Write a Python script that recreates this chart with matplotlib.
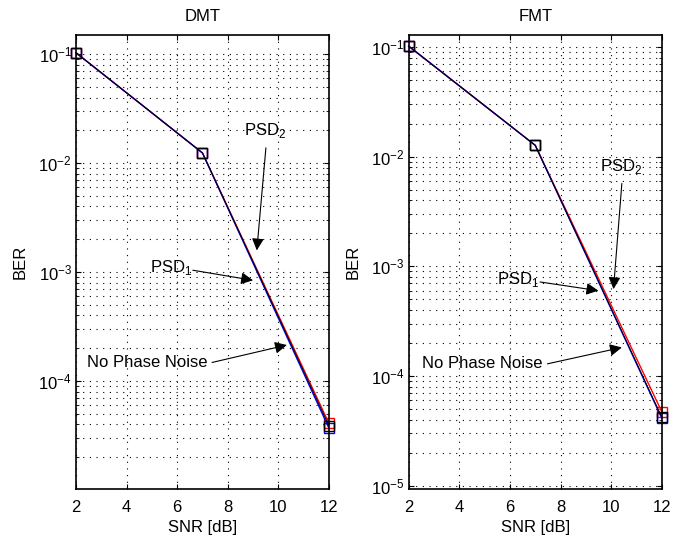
import matplotlib
matplotlib.use("Agg")
import matplotlib.pyplot as plt
from matplotlib.ticker import LogLocator, NullFormatter

plt.rcParams['font.family'] = ['Liberation Sans', 'DejaVu Sans']
plt.rcParams['mathtext.fontset'] = 'custom'
plt.rcParams['mathtext.rm'] = 'Liberation Sans'

snr = [2, 7, 12]

# DMT
dmt_psd2 = [0.103, 0.0124, 4.1e-5]
dmt_psd1 = [0.103, 0.0124, 3.9e-5]
dmt_nopn = [0.103, 0.0124, 3.7e-5]

# FMT
fmt_psd2 = [0.102, 0.0127, 4.7e-5]
fmt_psd1 = [0.102, 0.0127, 4.2e-5]
fmt_nopn = [0.102, 0.0127, 4.1e-5]

# annotations: (label, text pos, arrow tail, arrow tip, ha)
dmt_notes = [
	(r"PSD$_2$", (9.47, 0.020), (9.51, 0.0138), (9.15, 1.58e-3), "center"),
	(r"PSD$_1$", (4.92, 1.1e-3), (6.62, 1.04e-3), (9.0, 8.4e-4), "left"),
	("No Phase Noise", (2.43, 1.48e-4), (7.38, 1.48e-4), (10.34, 2.14e-4), "left"),
]
fmt_notes = [
	(r"PSD$_2$", (10.39, 8.2e-3), (10.42, 5.7e-3), (10.09, 6.2e-4), "center"),
	(r"PSD$_1$", (5.49, 7.6e-4), (7.19, 7.2e-4), (9.49, 6.0e-4), "left"),
	("No Phase Noise", (2.51, 1.29e-4), (7.48, 1.29e-4), (10.42, 1.82e-4), "left"),
]

fs = 12
dots = (0, (1, 5))

fig = plt.figure(figsize=(6.88, 5.38), dpi=100)
ax1 = fig.add_axes([0.1105, 0.091, 0.3675, 0.844])
ax2 = fig.add_axes([0.594, 0.091, 0.368, 0.844])

def draw(ax, title, psd2, psd1, nopn, notes, ylim):
	ax.semilogy(snr, psd2, "s-", color="red", mfc="none", ms=6.5, lw=1, clip_on=False)
	ax.semilogy(snr, nopn, "s-", color="blue", mfc="none", ms=6.5, lw=1, clip_on=False)
	ax.semilogy(snr, psd1, "s-", color="black", mfc="none", ms=6.5, lw=0.7, clip_on=False)
	ax.set_xlim(2, 12)
	ax.set_ylim(*ylim)
	ax.set_xticks([2, 4, 6, 8, 10, 12])
	ax.yaxis.set_major_locator(LogLocator(base=10))
	ax.yaxis.set_minor_locator(LogLocator(base=10, subs=range(2, 10)))
	ax.yaxis.set_minor_formatter(NullFormatter())
	ax.grid(True, which="major", ls=dots, color="black", lw=0.8)
	ax.grid(True, which="minor", axis="y", ls=dots, color="black", lw=0.8)
	ax.tick_params(which="both", direction="in", top=True, right=True, labelsize=fs)
	ax.tick_params(axis="x", pad=8)
	ax.tick_params(axis="y", pad=3)
	for s in ax.spines.values():
		s.set_linewidth(1.2)
	ax.set_title(title, fontsize=fs, pad=10)
	ax.set_xlabel("SNR [dB]", fontsize=fs)
	ax.set_ylabel("BER", fontsize=fs)
	ax.xaxis.set_label_coords(0.5, -0.068)
	ax.yaxis.set_label_coords(-0.22, 0.5)
	ax.yaxis.label.set_va("center")
	for lab, tpos, tail, tip, ha in notes:
		ax.text(tpos[0], tpos[1], lab, fontsize=fs, ha=ha, va="center")
		ax.annotate("", xy=tip, xytext=tail,
			arrowprops=dict(arrowstyle="-|>", color="black", lw=0.8,
				mutation_scale=18, shrinkA=0, shrinkB=0))

draw(ax1, "DMT", dmt_psd2, dmt_psd1, dmt_nopn, dmt_notes, (1.02e-5, 0.15))
draw(ax2, "FMT", fmt_psd2, fmt_psd1, fmt_nopn, fmt_notes, (9.3e-6, 0.129))

fig.savefig("out.png", dpi=100)
